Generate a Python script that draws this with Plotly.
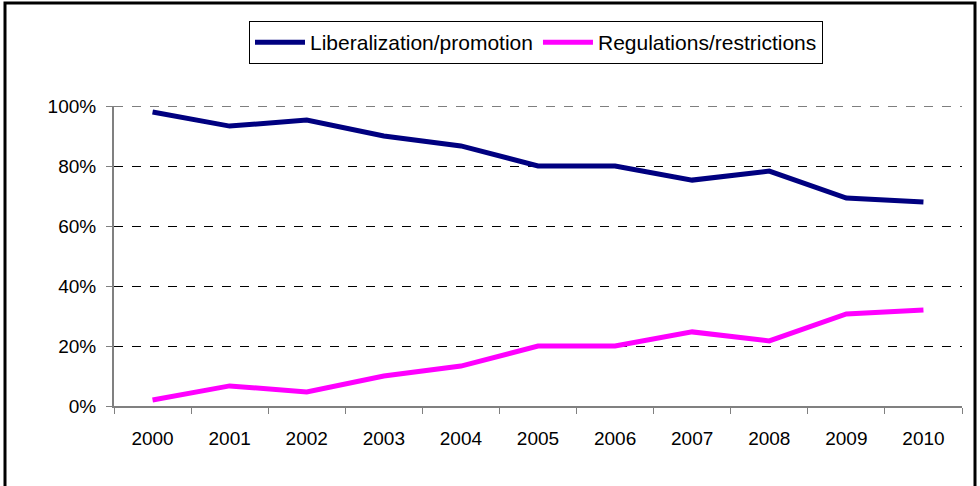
import plotly.graph_objects as go

years = ["2000", "2001", "2002", "2003", "2004", "2005", "2006", "2007", "2008", "2009", "2010"]
liberalization = [98.0, 93.3, 95.3, 90.0, 86.7, 80.0, 80.0, 75.3, 78.3, 69.3, 68.0]
regulations = [2.0, 6.7, 4.7, 10.0, 13.3, 20.0, 20.0, 24.7, 21.7, 30.7, 32.0]
y_ticks = [0, 20, 40, 60, 80, 100]
y_labels = ["0%", "20%", "40%", "60%", "80%", "100%"]

W, H = 980, 486
L, R, T, B = 114, 18, 106, 80

fig = go.Figure()
fig.add_trace(go.Scatter(x=years, y=liberalization, mode="lines", name="Liberalization/promotion",
                         line=dict(color="#000080", width=5)))
fig.add_trace(go.Scatter(x=years, y=regulations, mode="lines", name="Regulations/restrictions",
                         line=dict(color="#FF00FF", width=5)))

pw = W - L - R
ph = H - T - B
fig.add_shape(type="rect", xref="paper", yref="paper",
              x0=(5 - L) / pw, x1=(975 - L) / pw,
              y0=-1.0, y1=(H - B - 3) / ph,
              line=dict(color="black", width=3), fillcolor="rgba(0,0,0,0)", layer="below")
# top gridline at the range edge (Plotly omits it)
fig.add_shape(type="line", xref="paper", yref="y", x0=0, x1=1, y0=y_ticks[-1], y1=y_ticks[-1],
              line=dict(color="black", width=1, dash="dash"), layer="below")

fig.update_layout(
    width=W, height=H,
    margin=dict(l=L, r=R, t=T, b=B, pad=0),
    paper_bgcolor="white", plot_bgcolor="white",
    font=dict(family="Liberation Sans, Arial, sans-serif", size=19, color="black"),
    showlegend=True,
    legend=dict(orientation="h", xref="container", yref="container",
                x=536 / W, xanchor="center", y=1 - 21 / H, yanchor="top",
                bordercolor="black", borderwidth=1, bgcolor="white",
                font=dict(size=21), itemwidth=50, tracegroupgap=0),
)
fig.update_xaxes(type="category", tickson="boundaries", ticks="outside", ticklen=6,
                 tickcolor="#808080", showline=True, linecolor="#808080", linewidth=2,
                 showgrid=False, ticklabelstandoff=14, range=[-0.5, 10.5], fixedrange=True)
fig.update_yaxes(range=[0, 100], tickvals=y_ticks, ticktext=y_labels, ticks="outside", ticklen=6,
                 tickcolor="#808080", showline=True, linecolor="#808080", linewidth=2,
                 showgrid=True, gridcolor="black", griddash="dash", gridwidth=1,
                 zeroline=False, ticklabelstandoff=6, fixedrange=True)

fig.write_html("out.html")
